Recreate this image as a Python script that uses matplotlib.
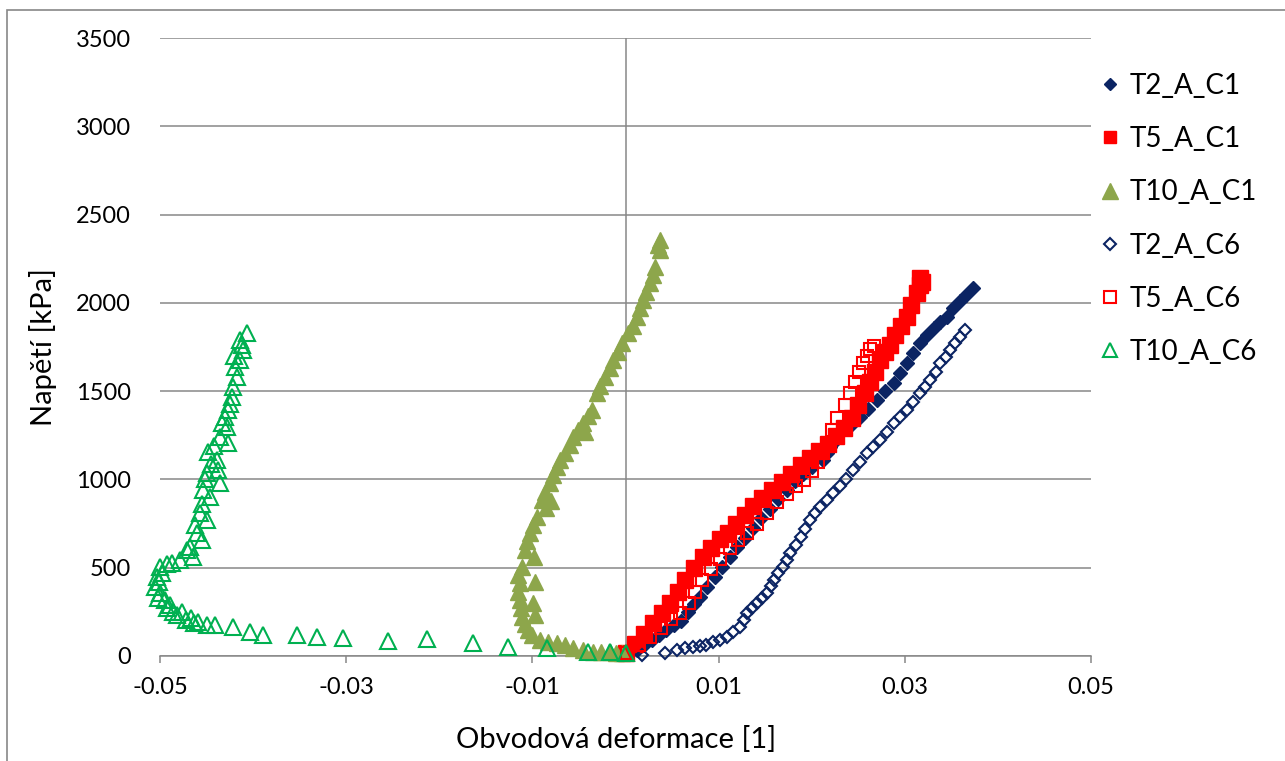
import numpy as np
import matplotlib
matplotlib.use("Agg")
import matplotlib.pyplot as plt
from matplotlib.patches import Rectangle

plt.rcParams['font.family'] = ['Lato', 'DejaVu Sans']

# === DATA ===
# (strain [1], stress [kPa])
t2_c1 = np.array([
    (0.0003, 10), (0.0012, 35), (0.0020, 60), (0.0028, 90), (0.0036, 120),
    (0.0044, 150), (0.0052, 175), (0.0060, 200), (0.0067, 250), (0.0074, 295),
    (0.0080, 334), (0.0088, 390), (0.0096, 450), (0.0104, 505), (0.0112, 560),
    (0.0120, 615), (0.0128, 670), (0.0137, 725), (0.0146, 780), (0.0155, 835),
    (0.0164, 890), (0.0173, 940), (0.0182, 990), (0.0191, 1030), (0.0200, 1070),
    (0.0212, 1110), (0.0216, 1150), (0.0220, 1184), (0.0227, 1230), (0.0234, 1280),
    (0.0243, 1315), (0.0252, 1353), (0.0261, 1400), (0.0270, 1450), (0.0279, 1500),
    (0.0288, 1546), (0.0295, 1600), (0.0302, 1659), (0.0309, 1715), (0.0316, 1772),
    (0.0324, 1820), (0.0331, 1860), (0.0338, 1890), (0.0345, 1920), (0.0352, 1970),
    (0.0359, 2010), (0.0366, 2045), (0.0373, 2084),
])

t5_c1 = np.array([
    (0.0001, 17), (0.0010, 70), (0.0020, 125), (0.0030, 185), (0.0039, 243),
    (0.0048, 300), (0.0056, 365), (0.0064, 430), (0.0074, 500), (0.0083, 560),
    (0.0092, 610), (0.0101, 660), (0.0110, 697), (0.0119, 750), (0.0128, 800),
    (0.0137, 850), (0.0147, 895), (0.0157, 940), (0.0168, 985), (0.0178, 1030),
    (0.0188, 1080), (0.0198, 1120), (0.0208, 1160), (0.0217, 1200), (0.0226, 1245),
    (0.0235, 1290), (0.0243, 1350), (0.0250, 1420), (0.0257, 1490), (0.0263, 1550),
    (0.0268, 1610), (0.0273, 1676), (0.0279, 1720), (0.0284, 1760), (0.0290, 1820),
    (0.0296, 1870), (0.0302, 1920), (0.0307, 1990), (0.0313, 2056), (0.0316, 2100),
    (0.0316, 2140), (0.0318, 2120),
])

t10_c1 = np.array([
    (0.0037, 2356), (0.0035, 2330), (0.0037, 2299), (0.0032, 2203), (0.0030, 2160),
    (0.0026, 2112), (0.0022, 2060), (0.0019, 2016), (0.0016, 1970), (0.0012, 1920),
    (0.0008, 1870), (0.0003, 1829), (-0.0004, 1772), (-0.0008, 1720), (-0.0013, 1676),
    (-0.0017, 1630), (-0.0022, 1580), (-0.0027, 1530), (-0.0031, 1489), (-0.0036, 1393),
    (-0.0040, 1360), (-0.0046, 1319), (-0.0044, 1270), (-0.0051, 1280), (-0.0056, 1240),
    (-0.0060, 1195), (-0.0065, 1150), (-0.0070, 1110), (-0.0074, 1070), (-0.0078, 1025),
    (-0.0081, 980), (-0.0086, 930), (-0.0080, 880), (-0.0090, 883), (-0.0085, 840),
    (-0.0095, 787), (-0.0099, 740), (-0.0103, 697), (-0.0106, 650), (-0.0108, 600),
    (-0.0098, 560), (-0.0111, 504), (-0.0115, 460), (-0.0097, 420), (-0.0113, 413),
    (-0.0116, 360), (-0.0113, 317), (-0.0099, 300), (-0.0112, 270), (-0.0097, 230),
    (-0.0111, 221), (-0.0108, 180), (-0.0105, 147), (-0.0100, 120), (-0.0092, 91),
    (-0.0083, 82), (-0.0074, 74), (-0.0065, 60), (-0.0056, 45), (-0.0046, 35),
    (-0.0035, 23), (-0.0026, 20), (-0.0017, 23), (-0.0010, 18), (-0.0004, 17),
])

t2_c6 = np.array([
    (0.0018, 5), (0.0042, 17), (0.0055, 34), (0.0064, 45), (0.0072, 51),
    (0.0080, 56), (0.0087, 62), (0.0094, 79), (0.0102, 92), (0.0109, 108),
    (0.0116, 135), (0.0123, 164), (0.0127, 205), (0.0130, 243), (0.0136, 270),
    (0.0141, 300), (0.0147, 330), (0.0152, 357), (0.0156, 395), (0.0159, 430),
    (0.0164, 468), (0.0169, 504), (0.0173, 545), (0.0177, 583), (0.0183, 630),
    (0.0188, 674), (0.0193, 722), (0.0198, 770), (0.0204, 808), (0.0209, 844),
    (0.0216, 885), (0.0223, 923), (0.0230, 960), (0.0237, 1005), (0.0244, 1053),
    (0.0252, 1100), (0.0259, 1150), (0.0266, 1185), (0.0273, 1223), (0.0281, 1270),
    (0.0288, 1319), (0.0295, 1355), (0.0302, 1393), (0.0309, 1440), (0.0316, 1489),
    (0.0322, 1525), (0.0327, 1563), (0.0333, 1610), (0.0338, 1659), (0.0344, 1695),
    (0.0349, 1733), (0.0354, 1770), (0.0359, 1806), (0.0365, 1846),
])

t5_c6 = np.array([
    (0.0002, 17), (0.0014, 60), (0.0026, 110), (0.0038, 160), (0.0049, 210),
    (0.0059, 243), (0.0068, 300), (0.0075, 360), (0.0082, 430), (0.0092, 490),
    (0.0101, 550), (0.0112, 610), (0.0121, 655), (0.0131, 697), (0.0141, 750),
    (0.0152, 810), (0.0163, 870), (0.0173, 920), (0.0183, 960), (0.0192, 997),
    (0.0200, 1050), (0.0207, 1100), (0.0212, 1150), (0.0217, 1200), (0.0222, 1280),
    (0.0227, 1350), (0.0236, 1420), (0.0241, 1490), (0.0246, 1550), (0.0251, 1610),
    (0.0255, 1660), (0.0259, 1700), (0.0263, 1740), (0.0267, 1755),
])

t10_c6 = np.array([
    (-0.0407, 1827), (-0.0412, 1760), (-0.0414, 1789), (-0.0411, 1733), (-0.0420, 1700),
    (-0.0414, 1676), (-0.0419, 1637), (-0.0417, 1580), (-0.0422, 1524), (-0.0423, 1467),
    (-0.0425, 1430), (-0.0427, 1393), (-0.0430, 1353), (-0.0433, 1320), (-0.0428, 1297),
    (-0.0436, 1240), (-0.0427, 1206), (-0.0442, 1190), (-0.0448, 1155), (-0.0439, 1110),
    (-0.0445, 1090), (-0.0438, 1053), (-0.0450, 1036), (-0.0452, 1000), (-0.0436, 980),
    (-0.0454, 940), (-0.0446, 900), (-0.0455, 860), (-0.0457, 810), (-0.0450, 770),
    (-0.0462, 740), (-0.0460, 697), (-0.0455, 657), (-0.0468, 620), (-0.0471, 600),
    (-0.0465, 561), (-0.0479, 544), (-0.0487, 527), (-0.0492, 520), (-0.0500, 504),
    (-0.0498, 470), (-0.0503, 447), (-0.0501, 420), (-0.0505, 391), (-0.0500, 357),
    (-0.0502, 330), (-0.0495, 317), (-0.0489, 289), (-0.0493, 270), (-0.0486, 249),
    (-0.0482, 230), (-0.0476, 249), (-0.0467, 215), (-0.0472, 205), (-0.0459, 193),
    (-0.0463, 185), (-0.0450, 176), (-0.0441, 176), (-0.0422, 164), (-0.0403, 136),
    (-0.0389, 119), (-0.0353, 119), (-0.0331, 108), (-0.0303, 102), (-0.0255, 85),
    (-0.0213, 96), (-0.0164, 74), (-0.0126, 51), (-0.0084, 45), (-0.0040, 23),
    (-0.0017, 23), (0.0000, 17),
])

labels = ["T2_A_C1", "T5_A_C1", "T10_A_C1", "T2_A_C6", "T5_A_C6", "T10_A_C6"]
x_ticks = [-0.05, -0.03, -0.01, 0.01, 0.03, 0.05]
x_ticklabels = ["-0.05", "-0.03", "-0.01", "0.01", "0.03", "0.05"]
y_ticks = [0, 500, 1000, 1500, 2000, 2500, 3000, 3500]

navy = "#0B2463"
red = "#FF0000"
olive = "#8DA64B"
green = "#00B050"
grey = "#878787"

# === PLOT ===
fig = plt.figure(figsize=(12.85, 7.61), dpi=100)
ax = fig.add_axes([160 / 1285, 1 - 656 / 761, 931 / 1285, 618 / 761])

# outer chart border (right and bottom edges fall outside the image)
fig.patches.append(Rectangle((7 / 1285, -0.2), 1.2, 1.2 - 10 / 761,
                             transform=fig.transFigure, fill=False,
                             edgecolor=grey, lw=1.2))

styles = [
    (t2_c1, dict(marker="D", ms=7, color=navy, mec=navy)),
    (t5_c1, dict(marker="s", ms=11, color=red, mec=red)),
    (t10_c1, dict(marker="^", ms=12, color=olive, mec=olive)),
    (t2_c6, dict(marker="D", ms=6.5, mfc="none", mec=navy, mew=1.5)),
    (t5_c6, dict(marker="s", ms=9, mfc="none", mec=red, mew=1.5)),
    (t10_c6, dict(marker="^", ms=11, mfc="none", mec=green, mew=1.5)),
]
for (d, st), lab in zip(styles, labels):
    ax.plot(d[:, 0], d[:, 1], ls="none", label=lab, clip_on=False, zorder=3, **st)

ax.set_xlim(-0.05, 0.05)
ax.set_ylim(0, 3500)
ax.set_xticks(x_ticks)
ax.set_xticklabels(x_ticklabels)
ax.set_yticks(y_ticks)

for s in ["top", "right", "left"]:
    ax.spines[s].set_visible(False)
ax.spines["bottom"].set_color(grey)
ax.spines["bottom"].set_linewidth(1.1)
ax.axvline(0, color=grey, lw=1.1, zorder=1)
ax.yaxis.grid(True, color=grey, lw=1.1)
ax.set_axisbelow(True)

ax.tick_params(axis="x", direction="out", length=5, width=1.1, color=grey,
               labelsize=17, pad=10)
ax.tick_params(axis="y", length=0, labelsize=17, pad=21)

ax.set_xlabel("Obvodová deformace [1]", fontsize=21)
ax.set_ylabel("Napětí [kPa]", fontsize=21)
ax.xaxis.set_label_coords((616 - 160) / 931, -70 / 618)
ax.yaxis.set_label_coords((57 - 160) / 931, 0.5)

leg = ax.legend(loc="upper left", bbox_to_anchor=(1088 / 1285, 1 - 59 / 761),
                bbox_transform=fig.transFigure, frameon=False, fontsize=20,
                borderpad=0, handlelength=0.6, handletextpad=0.4, labelspacing=0.98)
# legend symbols a bit smaller than the plotted ones
for lh, ms in zip(leg.legend_handles, [6, 8, 11, 6, 8, 10]):
    lh.set_markersize(ms)

fig.savefig("out.png", dpi=100)
